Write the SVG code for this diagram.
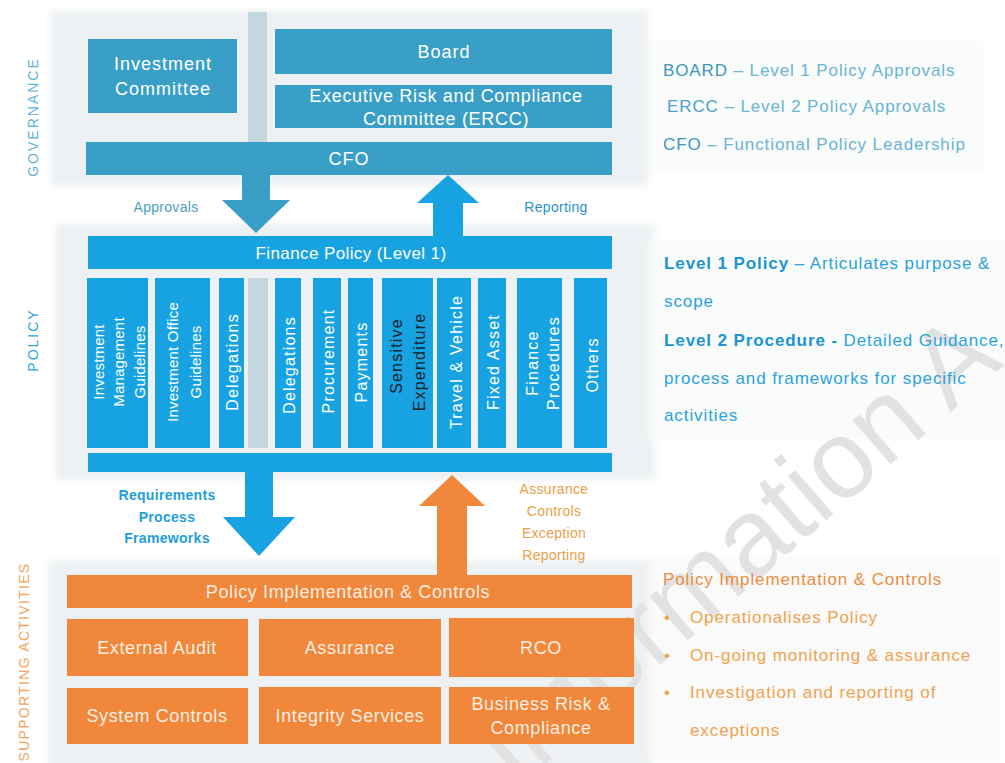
<svg xmlns="http://www.w3.org/2000/svg" width="1005" height="763" viewBox="0 0 1005 763">
  <defs>
    <style>
      text { font-family: "Liberation Sans", Arial, sans-serif; }
      .gov { fill: #3a9fc7; }
      .pol { fill: #17a3e2; }
      .org { fill: #f0873b; }
      .spine { fill: #c4d7df; }
      .panel { fill: #eef1f3; }
      .wt { fill: #ffffff; font-size: 18px; letter-spacing: 1px; text-anchor: middle; dominant-baseline: central; }
      .ot { fill: #fdeee2; font-size: 18px; letter-spacing: 0.6px; text-anchor: middle; dominant-baseline: central; }
      .col { fill: #ffffff; font-size: 16px; letter-spacing: 1.2px; text-anchor: middle; dominant-baseline: central; }
      .colsm { fill: #ffffff; font-size: 15px; letter-spacing: 0.2px; text-anchor: middle; dominant-baseline: central; }
      .side { font-size: 14px; letter-spacing: 2px; text-anchor: middle; dominant-baseline: central; }
      .note { font-size: 17px; letter-spacing: 0.9px; dominant-baseline: central; }
      .flow { font-size: 14px; font-weight: bold; letter-spacing: 0.3px; text-anchor: middle; dominant-baseline: central; }
    </style>
    <filter id="soft" x="-5%" y="-10%" width="110%" height="120%">
      <feGaussianBlur stdDeviation="3"/>
    </filter>
  </defs>

  <rect width="1005" height="763" fill="#ffffff"/>

  <!-- soft grey backdrops behind each tier -->
  <g id="backdrops" filter="url(#soft)">
    <rect class="panel" x="50" y="10" width="598" height="176"/>
    <rect class="panel" x="55" y="224" width="600" height="256"/>
    <rect class="panel" x="48" y="560" width="604" height="210"/>
    <rect x="650" y="40" width="335" height="132" fill="#fafbfb"/>
    <rect x="650" y="240" width="360" height="200" fill="#fafbfb"/>
    <rect x="650" y="555" width="350" height="205" fill="#fafafa"/>
  </g>

  <!-- background stamp -->
  <text id="stamp" transform="translate(516,790) rotate(-41)" font-size="110" fill="#e2e2e2" style="font-family:'Liberation Sans',Arial,sans-serif">Information A</text>

  <!-- tier labels -->
  <g id="tier-labels">
    <text class="side" transform="translate(33,117) rotate(-90)" fill="#62b2d6">GOVERNANCE</text>
    <text class="side" transform="translate(33,340) rotate(-90)" fill="#2ba6e0">POLICY</text>
    <text class="side" transform="translate(24,662) rotate(-90)" fill="#f2a35c" style="letter-spacing:1.3px">SUPPORTING ACTIVITIES</text>
  </g>

  <!-- governance tier -->
  <rect id="spine" class="spine" x="248" y="12" width="19" height="132"/>
  <g id="investment-committee">
    <rect class="gov" x="88" y="39" width="149" height="74"/>
    <text class="wt" x="163" y="64">Investment</text>
    <text class="wt" x="163" y="89">Committee</text>
  </g>
  <g id="board">
    <rect class="gov" x="275" y="29" width="337" height="45"/>
    <text class="wt" x="444" y="52">Board</text>
  </g>
  <g id="ercc">
    <rect class="gov" x="275" y="85" width="337" height="43"/>
    <text class="wt" x="446" y="96" style="letter-spacing:0.7px">Executive Risk and Compliance</text>
    <text class="wt" x="446" y="119" style="letter-spacing:0.7px">Committee (ERCC)</text>
  </g>
  <g id="cfo">
    <rect class="gov" x="86" y="142" width="526" height="33"/>
    <text class="wt" x="349" y="159">CFO</text>
  </g>

  <!-- policy tier -->
  <g id="finance-policy">
    <rect class="pol" x="88" y="236" width="524" height="33"/>
    <text class="wt" x="351" y="253" style="font-size:17px;letter-spacing:0.4px">Finance Policy (Level 1)</text>
  </g>
  <rect id="spine-policy" class="spine" x="248" y="278" width="20" height="170"/>
  <g id="col-investment-management">
    <rect class="pol" x="87" y="278" width="61" height="170"/>
    <text class="colsm" transform="translate(98,362) rotate(-90)">Investment</text>
    <text class="colsm" transform="translate(118,362) rotate(-90)">Management</text>
    <text class="colsm" transform="translate(139,362) rotate(-90)">Guidelines</text>
  </g>
  <g id="col-investment-office">
    <rect class="pol" x="155" y="278" width="55" height="170"/>
    <text class="colsm" transform="translate(172,362) rotate(-90)">Investment Office</text>
    <text class="colsm" transform="translate(195,362) rotate(-90)">Guidelines</text>
  </g>
  <g id="col-delegations-a">
    <rect class="pol" x="219" y="278" width="25" height="170"/>
    <text class="col" transform="translate(232,362) rotate(-90)">Delegations</text>
  </g>
  <g id="col-delegations-b">
    <rect class="pol" x="275" y="278" width="26" height="170"/>
    <text class="col" transform="translate(289,365) rotate(-90)">Delegations</text>
  </g>
  <g id="col-procurement">
    <rect class="pol" x="313" y="278" width="28" height="170"/>
    <text class="col" transform="translate(328,361) rotate(-90)">Procurement</text>
  </g>
  <g id="col-payments">
    <rect class="pol" x="348" y="278" width="25" height="170"/>
    <text class="col" transform="translate(361,362) rotate(-90)">Payments</text>
  </g>
  <g id="col-sensitive">
    <rect class="pol" x="382" y="278" width="51" height="170"/>
    <text class="col" transform="translate(396,356) rotate(-90)" style="fill:#14202a">Sensitive</text>
    <text class="col" transform="translate(419,362) rotate(-90)" style="fill:#14202a">Expenditure</text>
  </g>
  <g id="col-travel">
    <rect class="pol" x="437" y="278" width="34" height="170"/>
    <text class="col" transform="translate(456,362) rotate(-90)">Travel &amp; Vehicle</text>
  </g>
  <g id="col-fixed-asset">
    <rect class="pol" x="478" y="278" width="28" height="170"/>
    <text class="col" transform="translate(493,362) rotate(-90)">Fixed Asset</text>
  </g>
  <g id="col-finance-procedures">
    <rect class="pol" x="517" y="278" width="45" height="170"/>
    <text class="col" transform="translate(532,363) rotate(-90)">Finance</text>
    <text class="col" transform="translate(553,363) rotate(-90)">Procedures</text>
  </g>
  <g id="col-others">
    <rect class="pol" x="574" y="278" width="33" height="170"/>
    <text class="col" transform="translate(592,365) rotate(-90)">Others</text>
  </g>
  <rect id="policy-base" class="pol" x="88" y="453" width="524" height="19"/>

  <!-- supporting activities tier -->
  <g id="policy-implementation">
    <rect class="org" x="67" y="575" width="565" height="33"/>
    <text class="ot" x="348" y="592">Policy Implementation &amp; Controls</text>
  </g>
  <g id="external-audit">
    <rect class="org" x="67" y="619" width="181" height="57"/>
    <text class="ot" x="157" y="648">External Audit</text>
  </g>
  <g id="assurance">
    <rect class="org" x="259" y="619" width="182" height="57"/>
    <text class="ot" x="350" y="648">Assurance</text>
  </g>
  <g id="rco">
    <rect class="org" x="449" y="618" width="185" height="59"/>
    <text class="ot" x="541" y="648">RCO</text>
  </g>
  <g id="system-controls">
    <rect class="org" x="67" y="688" width="181" height="56"/>
    <text class="ot" x="157" y="716">System Controls</text>
  </g>
  <g id="integrity-services">
    <rect class="org" x="259" y="687" width="182" height="57"/>
    <text class="ot" x="350" y="716">Integrity Services</text>
  </g>
  <g id="business-risk">
    <rect class="org" x="449" y="687" width="185" height="57"/>
    <text class="ot" x="541" y="704">Business Risk &amp;</text>
    <text class="ot" x="541" y="728">Compliance</text>
  </g>

  <!-- flow arrows between tiers -->
  <g id="connectors">
    <polygon class="gov" points="242,175 270,175 270,200 290,200 256,233 222,200 242,200"/>
    <polygon class="pol" points="433,236 433,203 417,203 448,175 479,203 463,203 463,236"/>
    <polygon class="pol" points="245,472 273,472 273,517 295,517 259,556 223,517 245,517"/>
    <polygon class="org" points="437,575 437,506 419,506 452,475 485,506 467,506 467,575"/>
  </g>

  <!-- flow labels -->
  <g id="flow-labels">
    <text class="flow" x="166" y="207" fill="#4d9ec2" style="font-weight:normal">Approvals</text>
    <text class="flow" x="556" y="207" fill="#2b8fcb" style="font-weight:normal">Reporting</text>
    <text class="flow" x="167" y="495" fill="#1ea0dc">Requirements</text>
    <text class="flow" x="167" y="517" fill="#1ea0dc">Process</text>
    <text class="flow" x="167" y="538" fill="#1ea0dc">Frameworks</text>
    <text class="flow" x="554" y="489" fill="#e9a046" style="font-weight:normal">Assurance</text>
    <text class="flow" x="554" y="511" fill="#e9a046" style="font-weight:normal">Controls</text>
    <text class="flow" x="554" y="533" fill="#e9a046" style="font-weight:normal">Exception</text>
    <text class="flow" x="554" y="555" fill="#e9a046" style="font-weight:normal">Reporting</text>
  </g>

  <!-- explanatory notes -->
  <g id="governance-notes">
    <text class="note" x="663" y="70" fill="#6ab4d4"><tspan fill="#3c98bd">BOARD</tspan> – Level 1 Policy Approvals</text>
    <text class="note" x="667" y="106" fill="#6ab4d4"><tspan fill="#4aa2c6">ERCC</tspan> – Level 2 Policy Approvals</text>
    <text class="note" x="663" y="144" fill="#6ab4d4"><tspan fill="#3c98bd">CFO</tspan> – Functional Policy Leadership</text>
  </g>
  <g id="policy-notes">
    <text class="note" x="664" y="263" fill="#2aa3dc"><tspan font-weight="bold" fill="#1b95d2">Level 1 Policy</tspan> – Articulates purpose &amp;</text>
    <text class="note" x="664" y="301" fill="#2aa3dc">scope</text>
    <text class="note" x="664" y="340" fill="#2aa3dc"><tspan font-weight="bold" fill="#1b95d2">Level 2 Procedure - </tspan> Detailed Guidance,</text>
    <text class="note" x="664" y="378" fill="#2aa3dc">process and frameworks for specific</text>
    <text class="note" x="664" y="415" fill="#2aa3dc">activities</text>
  </g>
  <g id="support-notes">
    <text class="note" x="663" y="579" fill="#ec8d3e">Policy Implementation &amp; Controls</text>
    <text class="note" x="664" y="617" fill="#f0a24e">•</text>
    <text class="note" x="690" y="617" fill="#f0a24e">Operationalises Policy</text>
    <text class="note" x="664" y="655" fill="#f0a24e">•</text>
    <text class="note" x="690" y="655" fill="#f0a24e">On-going monitoring &amp; assurance</text>
    <text class="note" x="664" y="692" fill="#f0a24e">•</text>
    <text class="note" x="690" y="692" fill="#f0a24e">Investigation and reporting of</text>
    <text class="note" x="690" y="730" fill="#f0a24e">exceptions</text>
  </g>
</svg>
